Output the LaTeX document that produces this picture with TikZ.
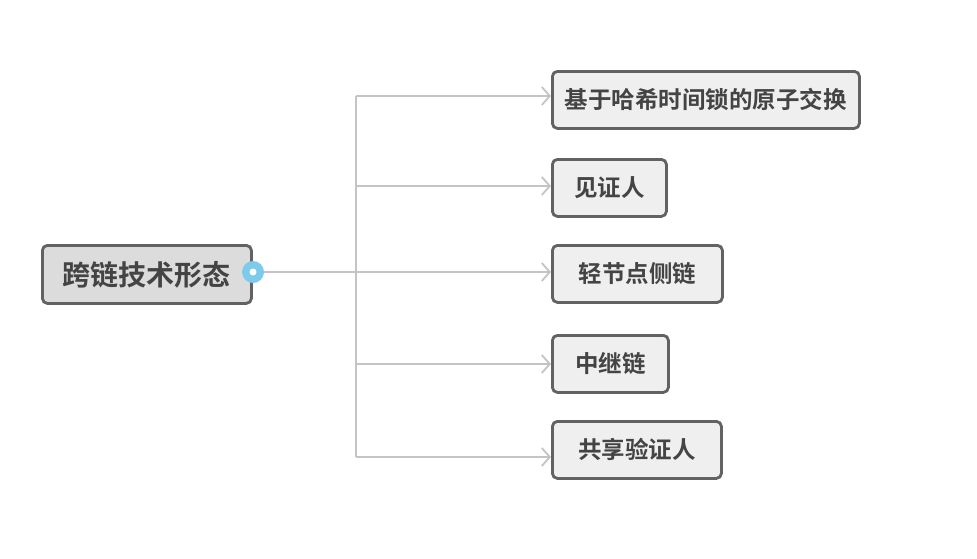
\documentclass[tikz,border=0pt]{standalone}
\usepackage{fontspec}
\newfontfamily\cjk{Noto Sans CJK SC}[BoldFont={Noto Sans CJK SC Bold}]
\usetikzlibrary{arrows.meta}
\definecolor{boxborder}{HTML}{626262}
\definecolor{rootfill}{HTML}{DCDCDC}
\definecolor{childfill}{HTML}{EFEFEF}
\definecolor{linkgray}{HTML}{C4C4C4}
\definecolor{txtgray}{HTML}{444444}
\definecolor{dotblue}{HTML}{7CCBEA}
\tikzset{
  x=1pt,y=-1pt,
  rootbox/.style={draw=boxborder,line width=2.8pt,fill=rootfill,rounded corners=5pt,inner sep=0pt,anchor=north west},
  childbox/.style={draw=boxborder,line width=2.8pt,fill=childfill,rounded corners=5pt,inner sep=0pt,anchor=north west},
  btxt/.style={text=txtgray,font=\cjk\bfseries\fontsize{23.5}{25}\selectfont},
  link/.style={draw=linkgray,line width=1.8pt},
  arr/.style={link,-{Straight Barb[length=8pt,width=18pt,line width=1.8pt]}}
}
\begin{document}
\begin{tikzpicture}
\useasboundingbox[fill=white] (0,0) rectangle (977,558);
% root
\node[rootbox,minimum width=209pt,minimum height=58pt] (root) at (41,244) {};
\node[btxt,font=\cjk\bfseries\fontsize{28}{30}\selectfont] (roott) at (root.center) {跨链技术形态};
% children
\node[childbox,minimum width=307pt,minimum height=57pt] (c1) at (551,70) {};
\node[btxt] at (c1.center) {基于哈希时间锁的原子交换};
\node[childbox,minimum width=114pt,minimum height=57pt] (c2) at (551,158) {};
\node[btxt] at (c2.center) {见证人};
\node[childbox,minimum width=170pt,minimum height=57pt] (c3) at (551,244) {};
\node[btxt] at (c3.center) {轻节点侧链};
\node[childbox,minimum width=116pt,minimum height=57pt] (c4) at (551,334) {};
\node[btxt] at (c4.center) {中继链};
\node[childbox,minimum width=169pt,minimum height=57pt] (c5) at (551,420) {};
\node[btxt] at (c5.center) {共享验证人};
% connectors
\coordinate (trunk) at (356,272);
\coordinate (t1) at (356,96);
\coordinate (t2) at (356,186);
\coordinate (t4) at (356,364);
\coordinate (t5) at (356,457);
\path[link] (t1) -- (t5);
\path[arr] (t1) -- (c1.west |- t1);
\path[arr] (t2) -- (c2.west |- t2);
\path[arr] (root.east |- trunk) -- (c3.west |- trunk);
\path[arr] (t4) -- (c4.west |- t4);
\path[arr] (t5) -- (c5.west |- t5);
% blue dot
\node[circle,fill=dotblue,minimum size=22pt,inner sep=0pt] (dot) at (253,272) {};
\node[circle,fill=white,minimum size=7pt,inner sep=0pt] at (dot.center) {};
\end{tikzpicture}
\end{document}
